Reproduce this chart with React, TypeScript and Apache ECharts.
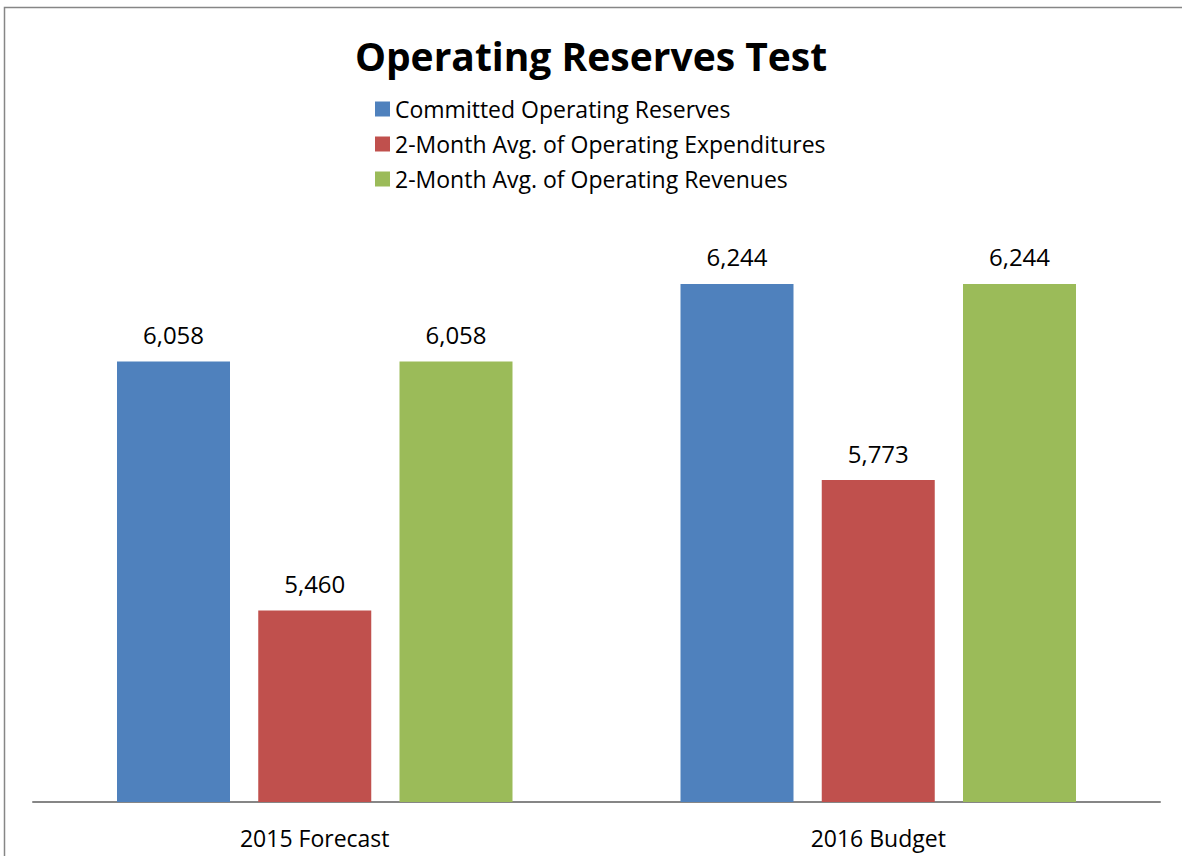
import React, { useEffect, useRef } from "react";
import * as echarts from "echarts";

const categories = ["2015 Forecast", "2016 Budget"];
const seriesNames = [
  "Committed Operating Reserves",
  "2-Month Avg. of Operating Expenditures",
  "2-Month Avg. of Operating Revenues",
];
const committed = [6058, 6244];
const expenditures = [5460, 5773];
const revenues = [6058, 6244];
const colors = ["#4F81BD", "#C0504D", "#9BBB59"];

const FONT = "'Open Sans', 'Noto Sans', sans-serif";

export default function App() {
  const ref = useRef<HTMLDivElement>(null);
  useEffect(() => {
    if (!ref.current) return;
    const chart = echarts.init(ref.current, undefined, { renderer: "svg" });
    const data = [committed, expenditures, revenues];
    chart.setOption({
      animation: false,
      backgroundColor: "#ffffff",
      title: {
        text: "Operating Reserves Test",
        left: "center",
        top: 31,
        textStyle: { fontFamily: FONT, fontSize: 39, fontWeight: "bold", color: "#000" },
      },
      legend: {
        orient: "vertical",
        left: 370,
        top: 92,
        itemWidth: 15,
        itemHeight: 15,
        itemGap: 11,
        icon: "rect",
        textStyle: { fontFamily: FONT, fontSize: 23, color: "#000", lineHeight: 24 },
        data: seriesNames,
      },
      graphic: [
        {
          type: "rect",
          shape: { x: 4.5, y: 7.5, width: 1300, height: 1000 },
          style: { fill: "none", stroke: "#868686", lineWidth: 1.5 },
          silent: true,
          z: -1,
        },
      ],
      grid: { left: 33, right: 22, top: 219, bottom: 54 },
      xAxis: {
        type: "category",
        data: categories,
        axisLine: { lineStyle: { color: "#868686", width: 2 } },
        axisTick: { show: false },
        axisLabel: { fontFamily: FONT, fontSize: 23, color: "#000", margin: 24 },
      },
      yAxis: {
        type: "value",
        min: 5000,
        max: 6400,
        show: false,
        splitLine: { show: false },
      },
      series: seriesNames.map((name, i) => ({
        name,
        type: "bar",
        data: data[i],
        barWidth: 113,
        barGap: "25%",
        itemStyle: { color: colors[i] },
        label: {
          show: true,
          position: "top",
          distance: 15,
          fontFamily: FONT,
          fontSize: 24,
          color: "#000",
          formatter: (p: any) => p.value.toLocaleString("en-US"),
        },
      })),
    });
    return () => chart.dispose();
  }, []);
  return (
    <div
      ref={ref}
      style={{ position: "fixed", left: 0, top: 0, width: 1182, height: 856 }}
    />
  );
}
